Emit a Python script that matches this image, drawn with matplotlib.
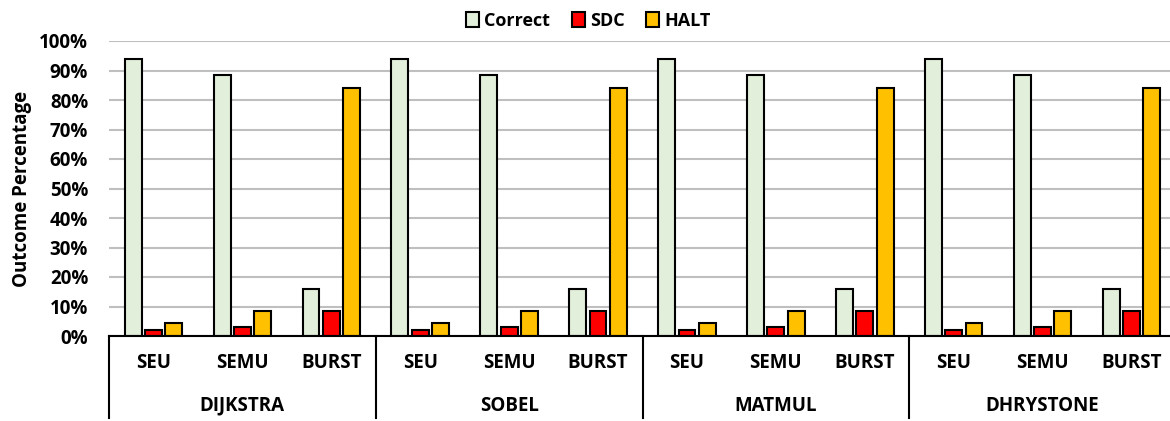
import matplotlib
matplotlib.use("Agg")
import matplotlib.pyplot as plt
import matplotlib.transforms as mtransforms
from matplotlib.patches import Patch
import numpy as np

plt.rcParams["font.family"] = ["Open Sans", "DejaVu Sans"]
plt.rcParams["font.weight"] = "bold"

groups = ["DIJKSTRA", "SOBEL", "MATMUL", "DHRYSTONE"]
modes = ["SEU", "SEMU", "BURST"]
correct = [93.8, 88.4, 15.9] * 4
sdc = [1.9, 3.1, 8.6] * 4
halt = [4.4, 8.6, 84.0] * 4

series = [("Correct", correct, "#E2EFDA"),
          ("SDC", sdc, "#FF0000"),
          ("HALT", halt, "#FFC000")]

fig = plt.figure(figsize=(11.7, 4.21), dpi=100)
ax = fig.add_axes([109 / 1170, 1 - 336 / 421, 1067 / 1170, 295 / 421])

x = np.arange(len(modes) * len(groups))
width = 0.19
step = 0.228
for i, (name, vals, col) in enumerate(series):
    ax.bar(x + (i - 1) * step, vals, width, color=col, edgecolor="black",
           linewidth=1.5, label=name, zorder=3)

fs = 13.5
ax.set_xlim(-0.5, len(x) - 0.5)
ax.set_ylim(0, 100)
ax.set_yticks(np.arange(0, 101, 10))
ax.set_yticklabels(["{}%".format(v) for v in range(0, 101, 10)], fontsize=fs, fontweight="bold")
ax.tick_params(axis="y", length=0, pad=15)
ax.set_xticks([])
ax.yaxis.grid(True, color="#BFBFBF", linewidth=1.5, zorder=0)
for s in ["left", "right", "top"]:
    ax.spines[s].set_visible(False)
ax.spines["bottom"].set_linewidth(1.5)
ax.spines["bottom"].set_zorder(4)

ax.set_ylabel("Outcome Percentage", fontsize=13.5, fontweight="bold", labelpad=5)

trans = mtransforms.blended_transform_factory(ax.transData, ax.transAxes)
for j, xi in enumerate(x):
    ax.text(xi, -0.092, modes[j % 3], transform=trans, ha="center", va="center",
            fontsize=fs, fontweight="bold")
for g, name in enumerate(groups):
    ax.text(g * 3 + 1, -0.237, name, transform=trans, ha="center", va="center",
            fontsize=fs, fontweight="bold")
for g in range(len(groups) + 1):
    ax.plot([g * 3 - 0.5, g * 3 - 0.5], [0, -0.278], transform=trans, color="black",
            linewidth=1.5, clip_on=False)

handles = [Patch(facecolor=c, edgecolor="black", linewidth=1.5) for _, _, c in series]
fig.legend(handles, [n for n, _, _ in series], loc="upper center", bbox_to_anchor=(0.503, 1.01),
           ncol=3, frameon=False, handlelength=0.7, handleheight=0.9,
           handletextpad=0.3, columnspacing=1.2, prop={"weight": "bold", "size": 13})

fig.savefig("out.png", dpi=100)
